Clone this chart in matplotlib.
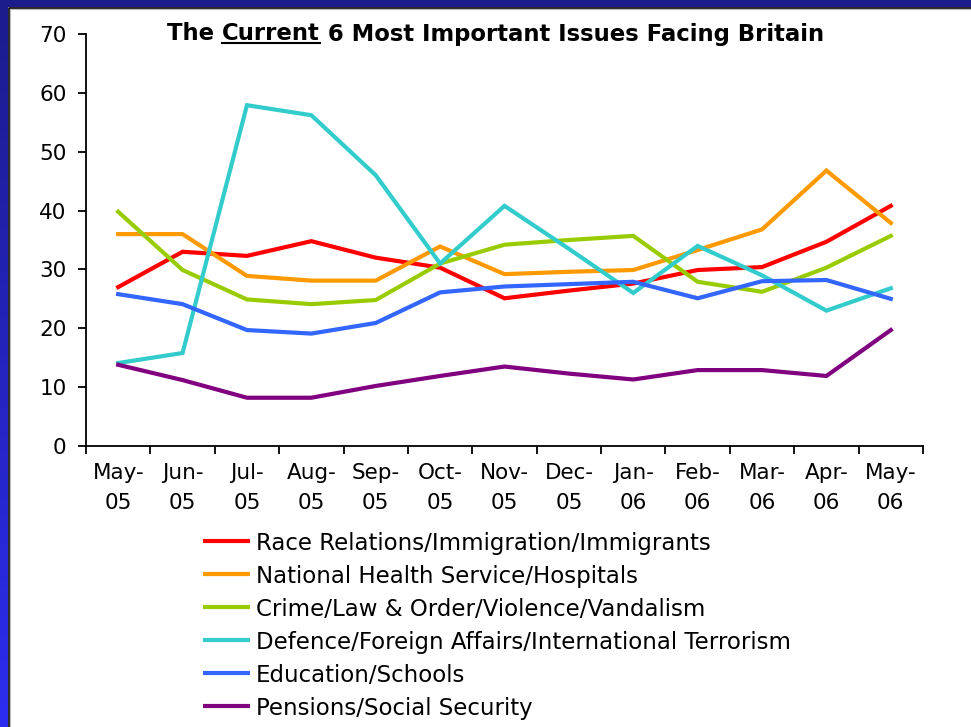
import matplotlib
matplotlib.use('Agg')
import matplotlib.pyplot as plt
import numpy as np
from matplotlib.lines import Line2D

months = ['May-\n05', 'Jun-\n05', 'Jul-\n05', 'Aug-\n05', 'Sep-\n05', 'Oct-\n05',
          'Nov-\n05', 'Dec-\n05', 'Jan-\n06', 'Feb-\n06', 'Mar-\n06', 'Apr-\n06',
          'May-\n06']

race = [27, 33, 32.3, 34.8, 32, 30.3, 25.1, 26.4, 27.6, 29.9, 30.4, 34.7, 40.8]
nhs = [36, 36, 28.9, 28.1, 28.1, 33.9, 29.2, 29.6, 29.9, 33.3, 36.8, 46.8, 37.9]
crime = [39.8, 29.9, 24.9, 24.1, 24.8, 31, 34.2, 35, 35.7, 27.9, 26.2, 30.3, 35.7]
defence = [14.1, 15.8, 57.9, 56.2, 46, 31, 40.8, 33.5, 26, 34, 29, 23, 26.8]
education = [25.8, 24.1, 19.7, 19.1, 20.9, 26.1, 27.1, 27.5, 27.9, 25.1, 28, 28.2, 25]
pensions = [13.8, 11.2, 8.2, 8.2, 10.2, 11.9, 13.5, 12.3, 11.3, 12.9, 12.9, 11.9, 19.7]

labels = ['Race Relations/Immigration/Immigrants',
          'National Health Service/Hospitals',
          'Crime/Law & Order/Violence/Vandalism',
          'Defence/Foreign Affairs/International Terrorism',
          'Education/Schools',
          'Pensions/Social Security']
colors = ['#ff0000', '#ff9900', '#99cc00', '#33cccc', '#3366ff', '#800080']
series = [race, nhs, crime, defence, education, pensions]

W, H = 971, 727
fig = plt.figure(figsize=(W / 100, H / 100), dpi=100)
fig.patch.set_facecolor('white')

# blue frame: gradient down the left, navy band across the top
bg = fig.add_axes([0, 0, 1, 1], zorder=-10)
bg.set_xlim(0, W)
bg.set_ylim(H, 0)
bg.axis('off')
grad = np.linspace(0, 1, 256).reshape(-1, 1)
top_c = np.array([0x1c, 0x1c, 0x8c]) / 255
bot_c = np.array([0x2c, 0x2c, 0xf0]) / 255
img = top_c + grad[..., None] * (bot_c - top_c)
bg.imshow(img, extent=[0, 8, H, 0], aspect='auto')
bg.fill_between([0, W], 0, 7, color='#1c1c8c', lw=0)
bg.plot([8.5, 8.5, W], [H, 7.5, 7.5], color='black', lw=1.2)
bg.plot([10, 10, W], [H, 9, 9], color='#bbbbbb', lw=0.8)

# legend drawn by hand in the frame axes (pixel coords, y down)
for i, (lab, c) in enumerate(zip(labels, colors)):
    ry = 541 + 33 * i
    bg.plot([203, 250], [ry, ry], color=c, lw=3, solid_capstyle='butt')
    bg.text(256, ry, lab, fontsize=16.5, va='center_baseline', ha='left')

ax = fig.add_axes([86 / W, 1 - 446 / H, (923 - 86) / W, (446 - 34) / H])
x = np.arange(len(months))
for vals, c in zip(series, colors):
    ax.plot(x, vals, color=c, lw=3, solid_joinstyle='miter')

ax.set_xlim(-0.5, len(months) - 0.5)
ax.set_ylim(0, 70)
ax.set_yticks(range(0, 71, 10))
ax.set_xticks(np.arange(-0.5, len(months), 1))
ax.set_xticklabels([])
ax.set_xticks(x, minor=True)
ax.set_xticklabels(months, minor=True, linespacing=1.65)
ax.tick_params(axis='x', which='minor', length=0, pad=12, labelsize=15.5)
ax.tick_params(axis='x', which='major', length=6, width=1.3)
ax.tick_params(axis='y', length=6, width=1.3, labelsize=15.5, pad=8)
ax.spines['top'].set_visible(False)
ax.spines['right'].set_visible(False)
for s in ['left', 'bottom']:
    ax.spines[s].set_linewidth(1.3)
ax.patch.set_alpha(0)

# title with the word "Current" underlined
parts = ['The ', 'Current', ' 6 Most Important Issues Facing Britain']
renderer = fig.canvas.get_renderer()
ty = 1 - 34 / H
texts = []
for p in parts:
    t = fig.text(0, ty, p, fontsize=16.4, fontweight='bold', va='center')
    texts.append(t)
widths = [t.get_window_extent(renderer).width for t in texts]
xpos = (495.5 - sum(widths) / 2)
for t, w in zip(texts, widths):
    t.set_x(xpos / W)
    xpos += w
bb = texts[1].get_window_extent(renderer)
uy = bb.y0 + 3
fig.add_artist(Line2D([bb.x0 / W, bb.x1 / W], [uy / H, uy / H],
                      color='black', lw=1.5))

fig.savefig('out.png', dpi=100)
